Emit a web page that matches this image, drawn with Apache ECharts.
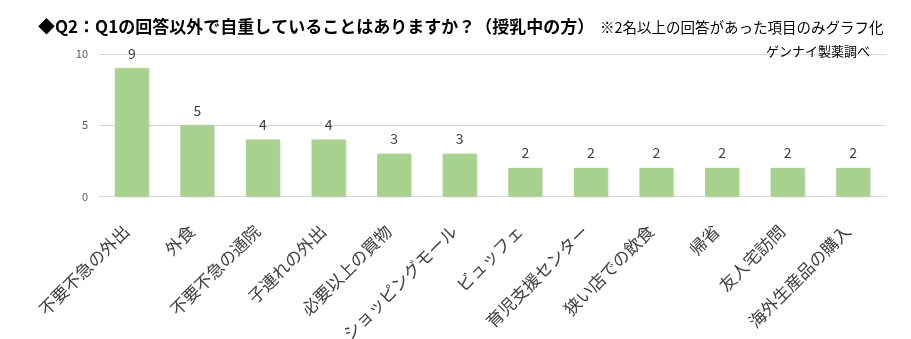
<!DOCTYPE html>
<html>
<head>
<meta charset="utf-8">
<script src="https://cdn.jsdelivr.net/npm/echarts@6/dist/echarts.min.js"></script>
<style>
  html, body { margin: 0; padding: 0; background: #fff; }
  #chart { width: 911px; height: 339px; }
</style>
</head>
<body>
<div id="chart"></div>
<script>
// Survey answers (respondents currently breastfeeding)
const categories = [
  '不要不急の外出', '外食', '不要不急の通院', '子連れの外出', '必要以上の買物',
  'ショッピングモール', 'ビュッフェ', '育児支援センター', '狭い店での飲食',
  '帰省', '友人宅訪問', '海外生産品の購入'
];
const counts = [9, 5, 4, 4, 3, 3, 2, 2, 2, 2, 2, 2];
const yTicks = [0, 5, 10];

const titleText = '◆Q2：Q1の回答以外で自重していることはありますか？（授乳中の方）';
const noteText = '※2名以上の回答があった項目のみグラフ化';
const sourceText = 'ゲンナイ製薬調べ';

const FONT = '"Noto Sans CJK JP", "Noto Sans", sans-serif';

const chart = echarts.init(document.getElementById('chart'));
chart.setOption({
  animation: false,
  backgroundColor: '#ffffff',
  title: [
    {
      text: titleText, left: 33, top: 13,
      textStyle: { fontFamily: FONT, fontSize: 17, fontWeight: 'bold', color: '#000' }
    },
    {
      text: noteText, left: 595, top: 15,
      textStyle: { fontFamily: FONT, fontSize: 14.5, fontWeight: 'normal', color: '#000' }
    },
    {
      text: sourceText, right: 36, top: 40,
      textStyle: { fontFamily: FONT, fontSize: 13, fontWeight: 'normal', color: '#000' }
    }
  ],
  grid: {
    left: 99, right: 25, top: 54, bottom: 142.5,
    containLabel: false, outerBoundsMode: 'none'
  },
  xAxis: {
    type: 'category',
    data: categories,
    axisLine: { show: true, lineStyle: { color: '#d9d9d9', width: 1 } },
    axisTick: { show: false },
    axisLabel: {
      interval: 0, rotate: 45, margin: 26, padding: [0, 8, 0, 0],
      fontFamily: FONT, fontSize: 17, color: '#404040'
    }
  },
  yAxis: {
    type: 'value',
    min: yTicks[0], max: yTicks[yTicks.length - 1], interval: 5,
    axisLine: { show: false },
    axisTick: { show: false },
    splitLine: { lineStyle: { color: '#d9d9d9', width: 1 } },
    axisLabel: { margin: 11, fontFamily: FONT, fontSize: 11, color: '#595959' }
  },
  series: [{
    type: 'bar',
    data: counts,
    barWidth: 34,
    itemStyle: { color: '#a9d18e', shadowColor: 'rgba(0,0,0,0.12)', shadowBlur: 2, shadowOffsetX: 1 },
    label: {
      show: true, position: 'top', distance: 8,
      fontFamily: FONT, fontSize: 14, color: '#404040'
    }
  }]
});
</script>
</body>
</html>
